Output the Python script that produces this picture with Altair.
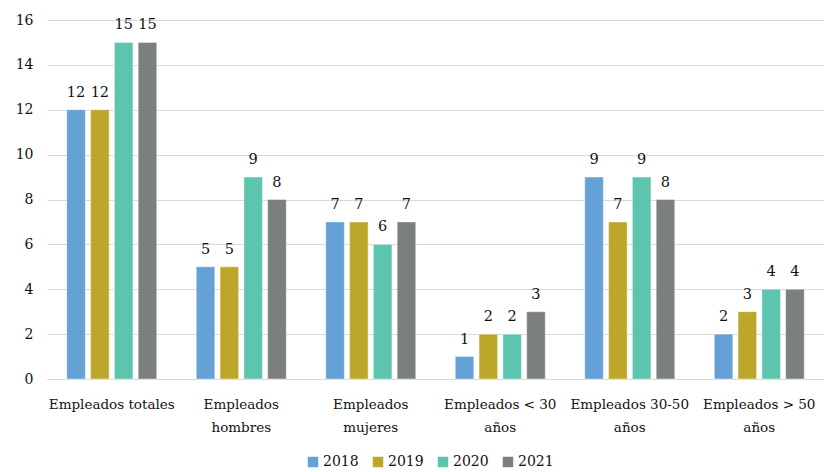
import altair as alt
import pandas as pd

categories = ["Empleados totales", "Empleados\nhombres", "Empleados\nmujeres",
              "Empleados < 30\naños", "Empleados 30-50\naños", "Empleados > 50\naños"]
years = ["2018", "2019", "2020", "2021"]
v2018 = [12, 5, 7, 1, 9, 2]
v2019 = [12, 5, 7, 2, 7, 3]
v2020 = [15, 9, 6, 2, 9, 4]
v2021 = [15, 8, 7, 3, 8, 4]
colors = ["#65A0D6", "#BDA72A", "#5DC5AE", "#7C7F80"]

rows = []
for y, vals in zip(years, [v2018, v2019, v2020, v2021]):
    for c, v in zip(categories, vals):
        rows.append({"cat": c, "year": y, "value": v})
df = pd.DataFrame(rows)

FONT = "DejaVu Serif"

base = alt.Chart(df).encode(
    x=alt.X("cat:N", sort=categories, title=None,
            scale=alt.Scale(paddingInner=0.305, paddingOuter=0.1525),
            axis=alt.Axis(labelExpr="split(datum.label, '\\n')", labelAngle=0,
                          labelFont=FONT, labelFontSize=13.5, labelColor="#111",
                          labelBaseline="top", labelLineHeight=23, labelPadding=18,
                          ticks=False, domain=True, domainColor="#D9D9D9", grid=False)),
    xOffset=alt.XOffset("year:N", sort=years,
                        scale=alt.Scale(paddingInner=0.22, paddingOuter=0)),
)

bars = base.mark_bar(stroke="white", strokeWidth=0.6, strokeOpacity=0.7).encode(
    y=alt.Y("value:Q", title=None,
            scale=alt.Scale(domain=[0, 16], nice=False),
            axis=alt.Axis(values=list(range(0, 17, 2)), labelFont=FONT, labelFontSize=14,
                          labelColor="#111", ticks=False, domain=False, labelPadding=14,
                          gridColor="#D9D9D9", gridWidth=1.2)),
    color=alt.Color("year:N", sort=years,
                    scale=alt.Scale(domain=years, range=colors),
                    legend=alt.Legend(title=None, orient="none", legendX=259, legendY=435,
                                      direction="horizontal", symbolType="square",
                                      symbolSize=110, symbolStrokeWidth=0,
                                      labelFont=FONT, labelFontSize=14, labelColor="#111",
                                      columnPadding=12, labelOffset=3)),
)

labels = base.mark_text(font=FONT, fontSize=14.5, color="#111", baseline="alphabetic", dy=-13).encode(
    y=alt.Y("value:Q"),
    text=alt.Text("value:Q"),
)

chart = (bars + labels).properties(
    width=777, height=359,
    autosize=alt.AutoSizeParams(type="none"),
    padding={"left": 39, "top": 12, "right": 0, "bottom": 90},
).configure_view(stroke=None)

chart.save("out.html", embed_options={"renderer": "svg", "actions": False})
